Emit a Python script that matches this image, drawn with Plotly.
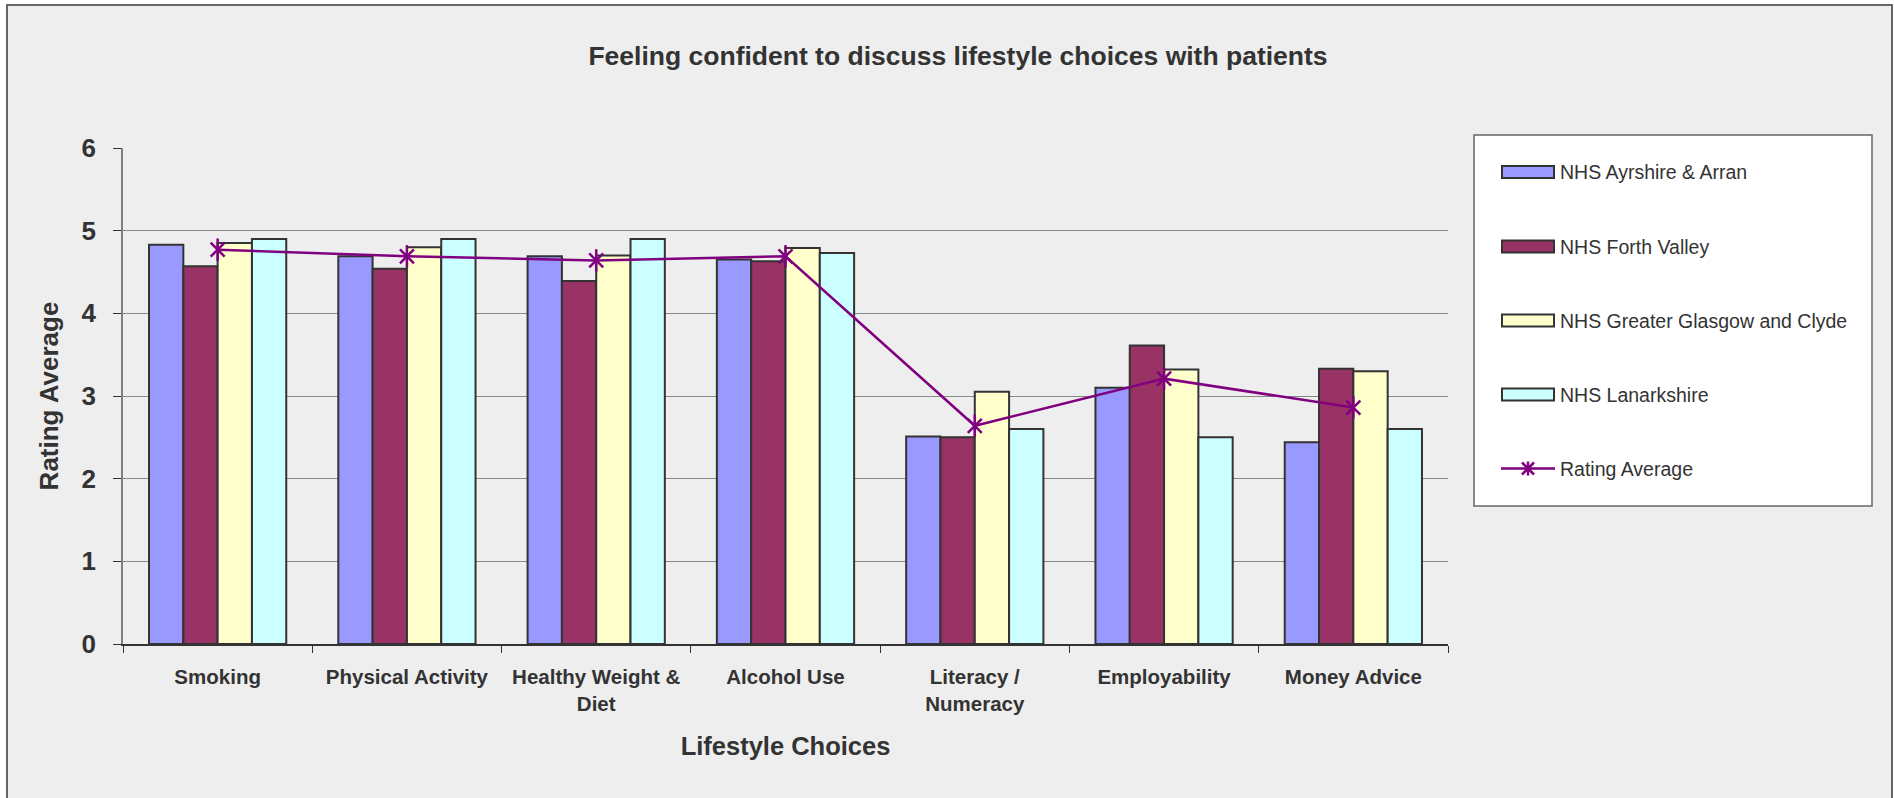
import plotly.graph_objects as go

# data
categories = ["Smoking", "Physical Activity", "Healthy Weight &<br>Diet", "Alcohol Use",
              "Literacy /<br>Numeracy", "Employability", "Money Advice"]
series_names = ["NHS Ayrshire & Arran", "NHS Forth Valley",
                "NHS Greater Glasgow and Clyde", "NHS Lanarkshire"]
ayrshire = [4.83, 4.69, 4.69, 4.65, 2.51, 3.10, 2.44]
forth_valley = [4.57, 4.54, 4.39, 4.63, 2.50, 3.61, 3.33]
glasgow = [4.85, 4.80, 4.70, 4.79, 3.05, 3.32, 3.30]
lanarkshire = [4.90, 4.90, 4.90, 4.73, 2.60, 2.50, 2.60]
rating_avg = [4.77, 4.69, 4.64, 4.69, 2.64, 3.21, 2.86]
avg_name = "Rating Average"

colors = ["#9999FF", "#993366", "#FFFFCC", "#CCFFFF"]
line_col = "#800080"
txt = "#333333"
FONT = "Liberation Sans, Arial, sans-serif"

W, H = 1894, 798
# plot area in pixels
L, R, T, B = 123, 1448, 148, 644
PW, PH = R - L, B - T


def px(x):
    return (x - L) / PW


def py(y):
    return (B - y) / PH


fig = go.Figure()
for name, vals, c in zip(series_names, [ayrshire, forth_valley, glasgow, lanarkshire], colors):
    fig.add_trace(go.Bar(
        x=categories, y=vals, name=name,
        marker=dict(color=c, line=dict(color="#333333", width=2)),
        showlegend=False,
    ))

# average line: x markers plus a vertical stroke make the 6 armed star
fig.add_trace(go.Scatter(
    x=categories, y=rating_avg, name=avg_name, mode="lines+markers",
    line=dict(color=line_col, width=2.5),
    marker=dict(symbol="x-thin-open", size=14, color=line_col,
                line=dict(color=line_col, width=2.5)),
    showlegend=False,
))
fig.add_trace(go.Scatter(
    x=categories, y=rating_avg, mode="markers",
    marker=dict(symbol="line-ns-open", size=16, color=line_col,
                line=dict(color=line_col, width=2.5)),
    showlegend=False, hoverinfo="skip",
))

shapes = [
    # chart area frame
    dict(type="rect", xref="paper", yref="paper", layer="below",
         x0=px(7), x1=px(1892), y0=py(820), y1=py(5),
         fillcolor="#EEEEEE", line=dict(color="#666666", width=2)),
    # legend box
    dict(type="rect", xref="paper", yref="paper",
         x0=px(1474), x1=px(1872), y0=py(506), y1=py(135),
         fillcolor="white", line=dict(color="#666666", width=1.5)),
]
annotations = []
leg_y = [172, 246.5, 320.5, 394.5, 468.5]
for i, (name, c) in enumerate(zip(series_names, colors)):
    yc = leg_y[i]
    shapes.append(dict(type="rect", xref="paper", yref="paper",
                       x0=px(1502), x1=px(1554), y0=py(yc + 6), y1=py(yc - 6),
                       fillcolor=c, line=dict(color="#333333", width=2)))
    annotations.append(dict(xref="paper", yref="paper", x=px(1558), y=py(yc),
                            xanchor="left", yanchor="middle", showarrow=False,
                            text=name, font=dict(family=FONT, size=19.5, color=txt)))
yc = leg_y[4]
xc = 1528
shapes.append(dict(type="line", xref="paper", yref="paper",
                   x0=px(1501), x1=px(1555), y0=py(yc), y1=py(yc),
                   line=dict(color=line_col, width=2.5)))
shapes.append(dict(type="path", xref="paper", yref="paper",
                   path=(f"M{px(xc-6)},{py(yc-6)} L{px(xc+6)},{py(yc+6)} "
                         f"M{px(xc-6)},{py(yc+6)} L{px(xc+6)},{py(yc-6)} "
                         f"M{px(xc)},{py(yc-7)} L{px(xc)},{py(yc+7)}"),
                   line=dict(color=line_col, width=2.5)))
annotations.append(dict(xref="paper", yref="paper", x=px(1558), y=py(yc),
                        xanchor="left", yanchor="middle", showarrow=False,
                        text=avg_name, font=dict(family=FONT, size=19.5, color=txt)))

fig.update_layout(
    width=W, height=H,
    margin=dict(l=L, r=W - R, t=T, b=H - B, autoexpand=False),
    paper_bgcolor="white",
    plot_bgcolor="rgba(0,0,0,0)",
    barmode="group", bargap=0.275, bargroupgap=0,
    font=dict(family=FONT, color=txt),
    title=dict(text="<b>Feeling confident to discuss lifestyle choices with patients</b>",
               x=958 / W, xanchor="center", xref="container",
               y=1 - 56 / H, yanchor="middle", yref="container",
               font=dict(family=FONT, size=26.5, color=txt)),
    shapes=shapes,
    annotations=annotations,
    showlegend=False,
)
fig.update_xaxes(
    range=[-0.5, 6.5], tickson="boundaries", ticks="outside", ticklen=7,
    tickcolor="#333333", tickwidth=1, showline=True, linecolor="#333333", linewidth=1.5,
    tickfont=dict(family=FONT, size=20.5, color=txt),
    tickprefix="<b>", ticksuffix="</b>", ticklabelstandoff=14,
    title=dict(text="<b>Lifestyle Choices</b>", standoff=23,
               font=dict(family=FONT, size=25.5, color=txt)),
    automargin=True,
)
fig.update_yaxes(
    range=[0, 6], dtick=1, ticks="outside", ticklen=8, tickcolor="#333333",
    showline=True, linecolor="#808080", linewidth=1.5,
    showgrid=True, gridcolor="#888888", gridwidth=1, zeroline=False,
    tickfont=dict(family=FONT, size=26, color=txt),
    tickprefix="<b>", ticksuffix="</b>", ticklabelstandoff=12,
    title=dict(text="<b>Rating Average</b>", standoff=15,
               font=dict(family=FONT, size=26, color=txt)),
    automargin=True,
)

fig.write_html("out.html", config={"displayModeBar": False},
               post_script="document.body.style.margin='0';")
